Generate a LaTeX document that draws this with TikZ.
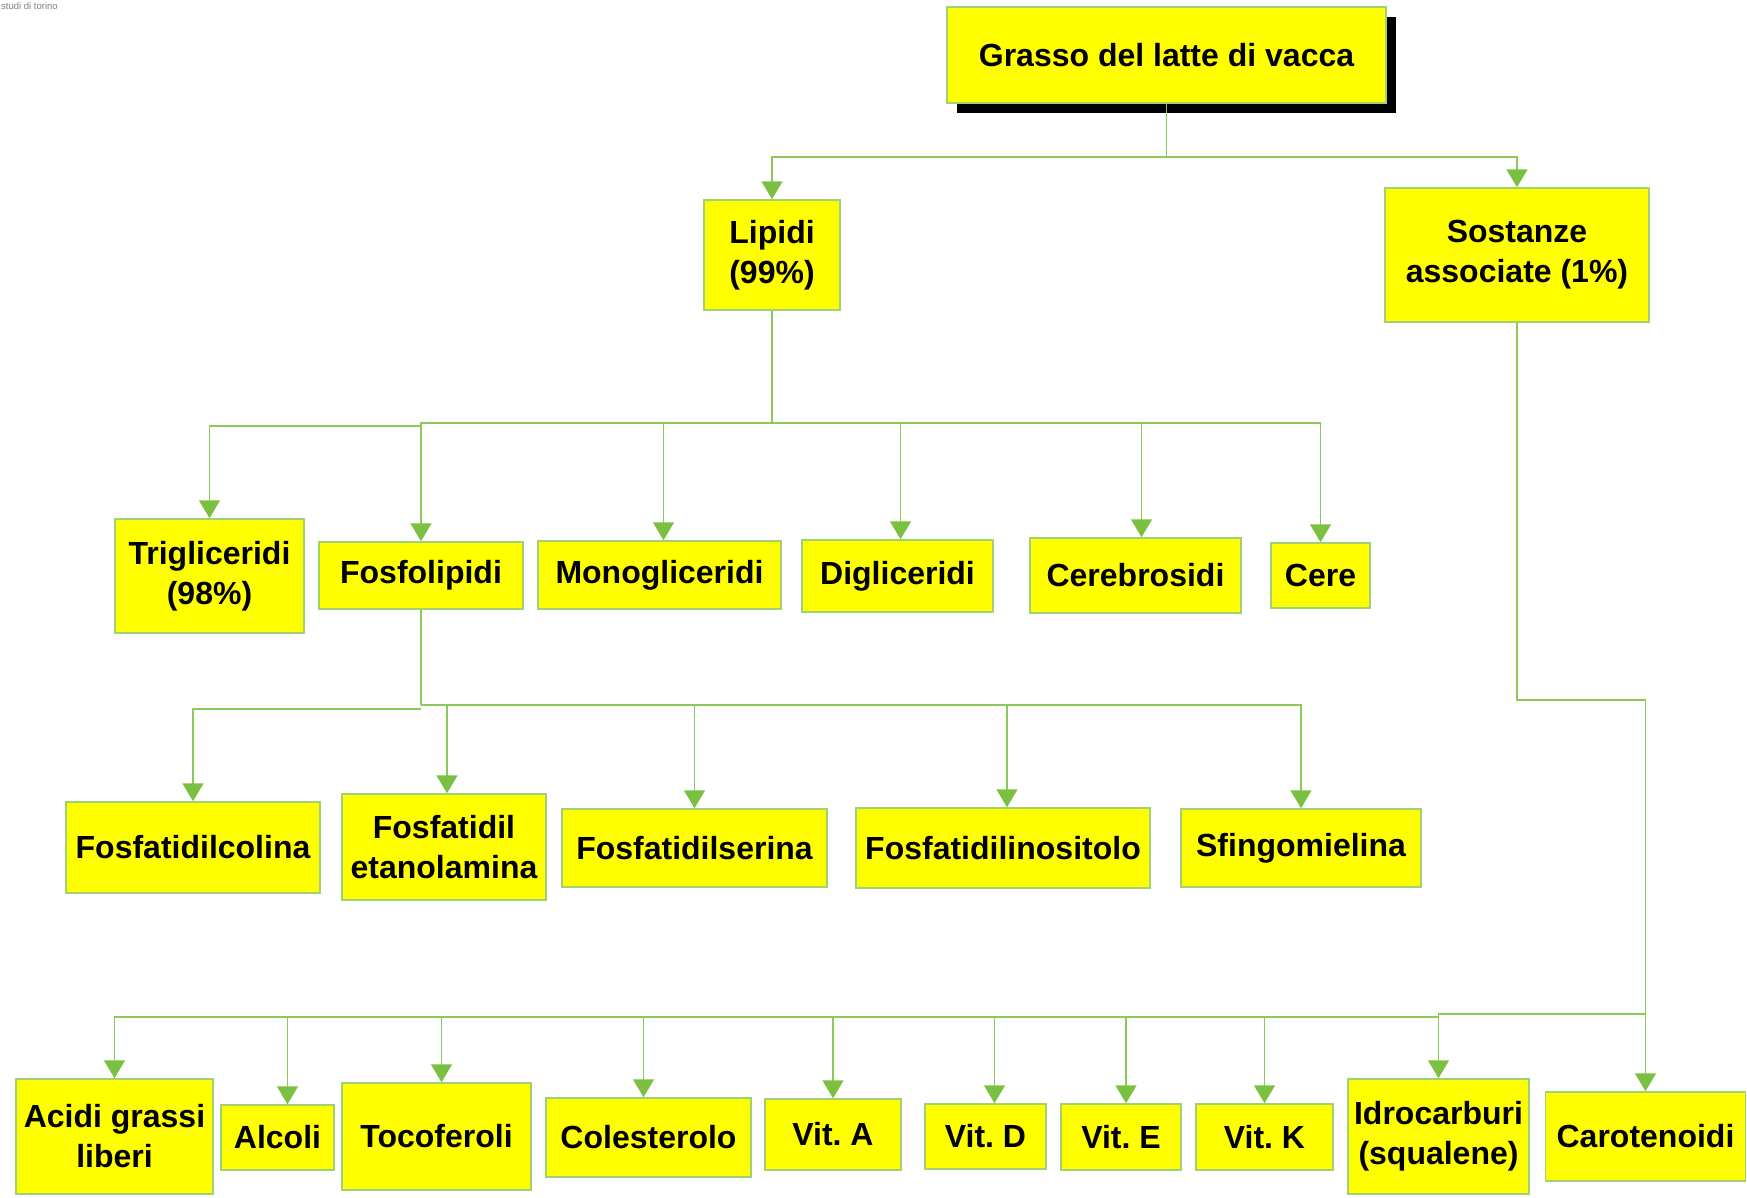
\documentclass[tikz,border=0pt]{standalone}
\usepackage{fontspec}
\setmainfont{Liberation Sans}
\usetikzlibrary{arrows.meta,shadows}
\definecolor{boxyellow}{RGB}{255,255,0}
\definecolor{edgegreen}{RGB}{160,210,115}
\definecolor{linegreen}{RGB}{140,200,90}
\definecolor{tipgreen}{RGB}{122,193,66}
\frenchspacing
\begin{document}
\frenchspacing
\begin{tikzpicture}[x=1pt,y=-1pt,
  box/.style={draw=edgegreen, line width=1.5pt, fill=boxyellow, inner sep=0pt,
    align=center, text=black, font=\fontsize{32}{40}\selectfont\bfseries},
  conn/.style={draw=linegreen, line width=1.6pt},
  arr/.style={conn, -{Triangle[width=21pt,length=18pt,color=tipgreen,fill=tipgreen]}}]
\useasboundingbox (0,0) rectangle (1747,1197);
\node[font=\fontsize{9.5}{10}\selectfont, text=gray, anchor=north west, inner sep=0pt] (logo) at (1,2) {studi di torino};

% top
\node[box, minimum width=439pt, minimum height=96pt,
  drop shadow={shadow xshift=10pt, shadow yshift=-10pt, fill=black, opacity=1}]
  (grasso) at (1166.5,55) {Grasso del latte di vacca};
\node[box, minimum width=136pt, minimum height=110pt] (lipidi) at (772,255) {Lipidi\\(99\%)};
\node[box, minimum width=264pt, minimum height=134pt] (sost) at (1517,255) {Sostanze\\associate (1\%)};

% level 2
\node[box, minimum width=189pt, minimum height=114pt] (trig) at (209.5,576) {Trigliceridi\\(98\%)};
\node[box, minimum width=204pt, minimum height=67pt] (fosfo) at (421,575.5) {Fosfolipidi};
\node[box, minimum width=243pt, minimum height=68pt] (mono) at (659.5,575) {Monogliceridi};
\node[box, minimum width=191pt, minimum height=72pt] (digl) at (897.5,576) {Digliceridi};
\node[box, minimum width=211pt, minimum height=75pt] (cereb) at (1135.5,575.5) {Cerebrosidi};
\node[box, minimum width=99pt, minimum height=65pt] (cere) at (1320.5,575.5) {Cere};

% level 3
\node[box, minimum width=254pt, minimum height=91pt] (colina) at (193,847.5) {Fosfatidilcolina};
\node[box, minimum width=204pt, minimum height=106pt] (etanol) at (444,847) {Fosfatidil\\etanolamina};
\node[box, minimum width=265pt, minimum height=78pt] (serina) at (694.5,848) {Fosfatidilserina};
\node[box, minimum width=294pt, minimum height=80pt] (inosit) at (1003,848) {Fosfatidilinositolo};
\node[box, minimum width=240pt, minimum height=78pt] (sfingo) at (1301,848) {Sfingomielina};

% bottom
\node[box, minimum width=197pt, minimum height=115pt] (acidi) at (114.5,1136.5) {Acidi grassi\\liberi};
\node[box, minimum width=113pt, minimum height=65pt] (alcoli) at (277.5,1137.5) {Alcoli};
\node[box, minimum width=189pt, minimum height=107pt] (toco) at (436.5,1136.5) {Tocoferoli};
\node[box, minimum width=205pt, minimum height=79pt] (coles) at (648.5,1137.5) {Colesterolo};
\node[box, minimum width=136pt, minimum height=71pt] (vita) at (833,1134.5) {Vit. A};
\node[box, minimum width=121pt, minimum height=65pt] (vitd) at (985.5,1136.5) {Vit. D};
\node[box, minimum width=120pt, minimum height=66pt] (vite) at (1121,1137) {Vit. E};
\node[box, minimum width=137pt, minimum height=66pt] (vitk) at (1264.5,1137) {Vit. K};
\node[box, minimum width=181pt, minimum height=115pt] (idro) at (1438.5,1136.5) {Idrocarburi\\(squalene)};
\node[box, minimum width=200pt, minimum height=89pt] (carot) at (1645.5,1136.5) {Carotenoidi};

% connectors top
\coordinate (b1) at (1166.5,157);
\draw[conn] (grasso.south) -- (b1);
\draw[arr] (b1) -| (lipidi.north);
\draw[arr] (b1) -| (sost.north);

% connectors level 2
\coordinate (b2) at (772,423);
\coordinate (b2t) at (421,426);
\draw[conn] (lipidi.south) -- (b2);
\draw[arr] (b2) -| (fosfo.north);
\draw[arr] (b2t) -| (trig.north);
\draw[arr] (b2) -| ([xshift=4pt]mono.north);
\draw[arr] (b2) -| ([xshift=3pt]digl.north);
\draw[arr] (b2) -| ([xshift=6pt]cereb.north);
\draw[arr] (b2) -| (cere.north);

% connectors level 3
\coordinate (b3) at (421,705);
\coordinate (b3c) at (421,709);
\draw[conn] (fosfo.south) -- (b3);
\draw[arr] (b3c) -| (colina.north);
\draw[arr] (b3) -| ([xshift=3pt]etanol.north);
\draw[arr] (b3) -| (serina.north);
\draw[arr] (b3) -| ([xshift=4pt]inosit.north);
\draw[arr] (b3) -| (sfingo.north);

% connectors bottom
\coordinate (s1) at (1517,700);
\coordinate (s2) at (carot.north |- s1);
\coordinate (s3) at (carot.north |- 0,1014);
\coordinate (b4) at (idro.north |- 0,1017);
\draw[conn] (sost.south) -- (s1) -- (s2);
\draw[arr] (s2) -- (carot.north);
\draw[arr] (s3) -| (idro.north);
\draw[arr] (b4) -| (acidi.north);
\draw[arr] (b4) -| ([xshift=10pt]alcoli.north);
\draw[arr] (b4) -| ([xshift=5pt]toco.north);
\draw[arr] (b4) -| ([xshift=-5pt]coles.north);
\draw[arr] (b4) -| (vita.north);
\draw[arr] (b4) -| ([xshift=9pt]vitd.north);
\draw[arr] (b4) -| ([xshift=5pt]vite.north);
\draw[arr] (b4) -| (vitk.north);
\end{tikzpicture}
\end{document}
